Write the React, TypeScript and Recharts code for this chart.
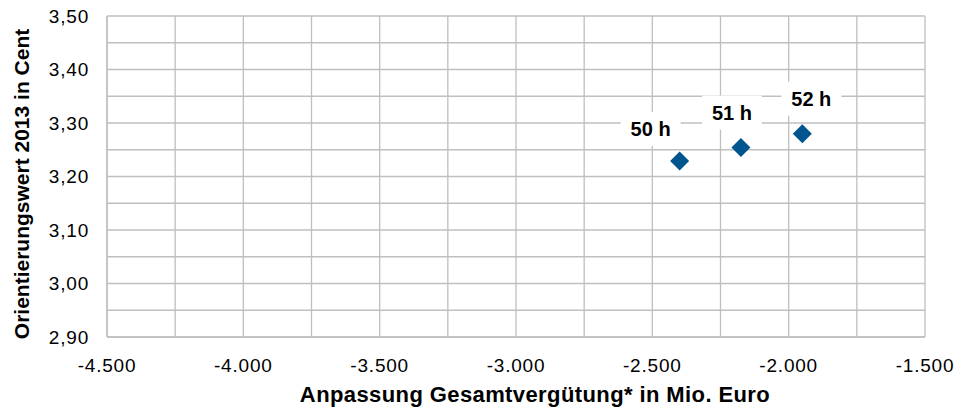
import React from 'react';
import { ScatterChart, Scatter, XAxis, YAxis, CartesianGrid, Label } from 'recharts';

// ---- Data ----
const pointLabels = ['50 h', '51 h', '52 h'];
const xValues = [-2400, -2175, -1950];
const yValues = [3.229, 3.254, 3.28];

const xTicks = [-4500, -4250, -4000, -3750, -3500, -3250, -3000, -2750, -2500, -2250, -2000, -1750, -1500];
const yTicks = [2.9, 2.95, 3.0, 3.05, 3.1, 3.15, 3.2, 3.25, 3.3, 3.35, 3.4, 3.45, 3.5];

const xTitle = 'Anpassung Gesamtvergütung* in Mio. Euro';
const yTitle = 'Orientierungswert 2013 in Cent';

// ---- Layout (label box offsets relative to each marker) ----
const labelOffsets = [
  { dx: -29, dy: -32 },
  { dx: -9, dy: -35 },
  { dx: 9, dy: -35 },
];

const FONT = '"Liberation Sans", Arial, Helvetica, sans-serif';
const GRID = '#BFBFBF';
const MARK = '#00558F';

const data = xValues.map((x, i) => ({ x, y: yValues[i], label: pointLabels[i] }));

const fmtX = (v: number) => {
  if (Math.round(v) % 500 !== 0) return '';
  const sign = v < 0 ? '-' : '';
  const a = Math.abs(Math.round(v));
  const th = Math.floor(a / 1000);
  const rest = String(a % 1000).padStart(3, '0');
  return th > 0 ? `${sign}${th}.${rest}` : `${sign}${a}`;
};

const fmtY = (v: number) => {
  const c = Math.round(v * 100);
  if (c % 10 !== 0) return '';
  return (c / 100).toFixed(2).replace('.', ',');
};

const DiamondWithLabel = (props: any) => {
  const { cx, cy, payload } = props;
  if (cx == null || cy == null) return null;
  const r = 9.5;
  const idx = pointLabels.indexOf(payload.label);
  const off = labelOffsets[idx] || { dx: 0, dy: -30 };
  const bx = cx + off.dx;
  const by = cy + off.dy;
  const bw = 60;
  const bh = 34;
  return (
    <g>
      <rect x={bx - bw / 2} y={by - bh / 2} width={bw} height={bh} fill="#FFFFFF" />
      <text
        x={bx}
        y={by + 7}
        textAnchor="middle"
        fontFamily={FONT}
        fontWeight="bold"
        fontSize={20}
        fill="#000"
      >
        {payload.label}
      </text>
      <polygon
        points={`${cx},${cy - r} ${cx + r},${cy} ${cx},${cy + r} ${cx - r},${cy}`}
        fill={MARK}
      />
    </g>
  );
};

const XTitle = (props: any) => {
  const vb = props.viewBox || {};
  return (
    <text
      x={vb.x + vb.width / 2 + 19}
      y={vb.y + 65}
      textAnchor="middle"
      fontFamily={FONT}
      fontWeight="bold"
      fontSize={22}
      letterSpacing={0.4}
      fill="#000"
    >
      {xTitle}
    </text>
  );
};

const YTitle = (props: any) => {
  const vb = props.viewBox || {};
  const cx = 29;
  const cy = vb.y + vb.height / 2 + 7.5;
  return (
    <text
      x={cx}
      y={cy}
      transform={`rotate(-90, ${cx}, ${cy})`}
      textAnchor="middle"
      fontFamily={FONT}
      fontWeight="bold"
      fontSize={21}
      fill="#000"
    >
      {yTitle}
    </text>
  );
};

export default function App() {
  return (
    <div style={{ position: 'absolute', left: 0, top: 0, background: '#fff' }}>
      <ScatterChart
        width={963}
        height={408}
        margin={{ top: 16, right: 38, bottom: 0, left: 0 }}
        style={{ fontFamily: FONT }}
      >
        <CartesianGrid stroke={GRID} strokeWidth={1.3} fill="none" />
        <XAxis
          type="number"
          dataKey="x"
          domain={[-4500, -1500]}
          ticks={xTicks}
          interval={0}
          tickFormatter={fmtX}
          tickLine={false}
          tickSize={0}
          tickMargin={22}
          axisLine={{ stroke: GRID, strokeWidth: 1.3 }}
          height={71}
          allowDataOverflow
          tick={{ fill: '#000', fontSize: 19, fontFamily: FONT, letterSpacing: 0.8 }}
        >
          <Label content={<XTitle />} />
        </XAxis>
        <YAxis
          type="number"
          dataKey="y"
          domain={[2.9, 3.5]}
          ticks={yTicks}
          interval={0}
          tickFormatter={fmtY}
          tickLine={false}
          tickSize={0}
          tickMargin={18}
          axisLine={{ stroke: GRID, strokeWidth: 1.3 }}
          width={107}
          allowDataOverflow
          tick={{ fill: '#000', fontSize: 19, fontFamily: FONT, letterSpacing: 0.8 }}
        >
          <Label content={<YTitle />} />
        </YAxis>
        <Scatter data={data} isAnimationActive={false} shape={<DiamondWithLabel />} />
      </ScatterChart>
    </div>
  );
}
